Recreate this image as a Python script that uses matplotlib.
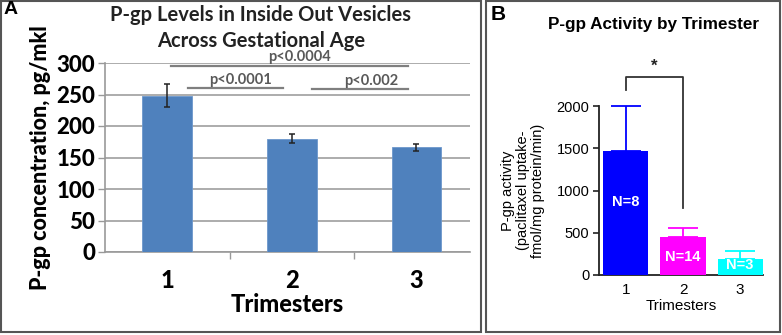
import matplotlib
matplotlib.use("Agg")
import matplotlib.pyplot as plt
from matplotlib.patches import Rectangle
import numpy as np

# ---- data ----
trimesters = ["1", "2", "3"]
pgp_levels = [248, 180, 166]
pgp_levels_err = [18, 7, 6]
sig_pairs = [(1, 2), (2, 3), (1, 3)]
sig_labels = ["p<0.0001", "p<0.002", "p<0.0004"]
a_yticks = [0, 50, 100, 150, 200, 250, 300]

pgp_activity = [1470, 453, 186]
pgp_activity_err = [530, 107, 102]
n_labels = ["N=8", "N=14", "N=3"]
b_yticks = [0, 500, 1000, 1500, 2000]
b_colors = ["#0000FF", "#FF00FF", "#00FFFF"]

W, H = 782, 335
fig = plt.figure(figsize=(W / 100, H / 100), dpi=100)

def fx(px):
    return px / W

def fy(py):
    return 1 - py / H

# panel borders
for x0, x1 in [(1, 481), (486, 780)]:
    fig.add_artist(Rectangle((fx(x0), fy(332)), fx(x1 - x0), (332 - 1) / H,
                             transform=fig.transFigure, fill=False,
                             edgecolor="#555555", lw=1.5))

# ---------------- Panel A ----------------
fa = "Lato"
axA = fig.add_axes([fx(105), fy(252), fx(470 - 105), (252 - 63) / H])
x = np.arange(1, len(trimesters) + 1)
axA.bar(x, pgp_levels, width=0.4, color="#4F81BD", edgecolor="#6C97CC", lw=0.6, zorder=3)
axA.errorbar(x, pgp_levels, yerr=pgp_levels_err, fmt="none", ecolor="#222222",
             elinewidth=1.1, capsize=2.5, capthick=1.1, zorder=4)
axA.set_xlim(0.5, 3.43)
axA.set_ylim(0, 300)
axA.set_yticks(a_yticks)
axA.set_yticklabels([str(v) for v in a_yticks], fontfamily=fa, fontweight="black",
                    fontsize=16, color="black")
axA.set_xticks(x)
axA.set_xticklabels(trimesters, fontfamily=fa, fontweight="black", fontsize=17)
axA.tick_params(axis="x", length=0, pad=12)
axA.set_xticks([1.5, 2.5], minor=True)
axA.tick_params(axis="x", which="minor", length=5, color="#999999", width=1)
axA.tick_params(axis="y", length=5, color="#999999", width=1, pad=2)
axA.yaxis.grid(True, color="#a6a6a6", lw=1.3, zorder=0)
axA.set_axisbelow(True)
for s in ["top", "right"]:
    axA.spines[s].set_visible(False)
axA.spines["left"].set_color("#999999")
axA.spines["bottom"].set_color("#999999")
axA.spines["left"].set_linewidth(1.2)
axA.spines["bottom"].set_linewidth(1.2)
axA.set_xlabel("Trimesters", fontfamily=fa, fontweight="black", fontsize=17, labelpad=1)
axA.set_ylabel("P-gp concentration, pg/mkl", fontfamily=fa, fontweight="black",
               fontsize=15.5, labelpad=4)

# significance lines
sig_y = {(1, 2): 260, (2, 3): 259, (1, 3): 296}
sig_x = {(1, 2): (1.17, 1.93), (2, 3): (2.16, 2.93), (1, 3): (1.03, 2.93)}
sig_tx = {(1, 2): 1.59, (2, 3): 2.64, (1, 3): 2.06}
for pair, lab in zip(sig_pairs, sig_labels):
    xa, xb = sig_x[pair]
    yy = sig_y[pair]
    axA.plot([xa, xb], [yy, yy], color="#7f7f7f", lw=1.6, zorder=5, clip_on=False)
    axA.text(sig_tx[pair], yy + 2, lab, ha="center", va="bottom", fontfamily=fa,
             fontweight="bold", fontsize=10.5, color="#595959", zorder=6)

fig.text(fx(261), fy(15), "P-gp Levels in Inside Out Vesicles", ha="center", va="center",
         fontfamily=fa, fontweight="bold", fontsize=14.5, color="#222222")
fig.text(fx(261), fy(41), "Across Gestational Age", ha="center", va="center",
         fontfamily=fa, fontweight="bold", fontsize=14.5, color="#222222")
fig.text(fx(4), fy(10), "A", ha="left", va="center", fontfamily="Liberation Sans",
         fontweight="bold", fontsize=14, color="black")

# ---------------- Panel B ----------------
fb = "Liberation Sans"
axB = fig.add_axes([fx(599), fy(275), fx(763 - 599), (275 - 106) / H])
axB.bar(x, pgp_activity, width=0.79, color=b_colors, zorder=3)
for xi, v, e, c in zip(x, pgp_activity, pgp_activity_err, b_colors):
    axB.errorbar([xi], [v], yerr=[[0], [e]], fmt="none", ecolor=c, elinewidth=1.3,
                 capsize=11, capthick=1.3, zorder=2, clip_on=False)
axB.set_xlim(0.53, 3.40)
axB.set_ylim(0, 2000)
axB.set_yticks(b_yticks)
axB.set_yticklabels([str(v) for v in b_yticks], fontfamily=fb, fontsize=10.5)
axB.set_xticks(x)
axB.set_xticklabels(trimesters, fontfamily=fb, fontsize=11)
axB.tick_params(axis="y", length=4, width=1.2, color="#222222", pad=3)
axB.tick_params(axis="x", length=0, pad=6)
for s in ["top", "right"]:
    axB.spines[s].set_visible(False)
for s in ["left", "bottom"]:
    axB.spines[s].set_linewidth(1.3)
    axB.spines[s].set_color("#222222")
axB.set_xlabel("Trimesters", fontfamily=fb, fontsize=11, labelpad=1)
axB.set_ylabel("P-gp activity\n(paclitaxel uptake-\nfmol/mg protein/min)",
               fontfamily=fb, fontsize=10.5, labelpad=8, linespacing=1.1)
n_y = [864, 213, 118]
for xi, lab, yy in zip(x, n_labels, n_y):
    axB.text(xi, yy, lab, ha="center", va="center", fontfamily=fb, fontweight="bold",
             fontsize=10.5, color="white", zorder=5)
# significance bracket
axB.plot([1, 1, 2, 2], [2190, 2340, 2340, 790], color="#333333", lw=1.3,
         clip_on=False, zorder=6)
axB.text(1.5, 2470, "*", ha="center", va="center", fontfamily=fb, fontweight="bold",
         fontsize=12, color="#222222")

fig.text(fx(653), fy(25), "P-gp Activity by Trimester", ha="center", va="center",
         fontfamily=fb, fontweight="bold", fontsize=12.3, color="black")
fig.text(fx(491), fy(14), "B", ha="left", va="center", fontfamily=fb,
         fontweight="bold", fontsize=15, color="black")

fig.savefig("out.png", dpi=100)
